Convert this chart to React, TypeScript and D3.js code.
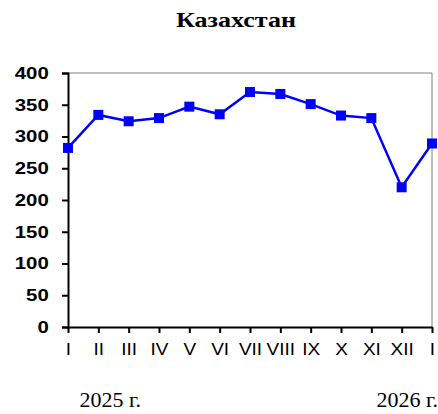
import React, { useEffect, useRef } from 'react';
import * as d3 from 'd3';

const months = ['I', 'II', 'III', 'IV', 'V', 'VI', 'VII', 'VIII', 'IX', 'X', 'XI', 'XII', 'I'];
const values = [282, 334, 324, 329, 347, 335, 370, 367, 351, 333, 329, 220, 289];
const yTicks = [0, 50, 100, 150, 200, 250, 300, 350, 400];
const years = ['2025 г.', '2026 г.'];

const width = 438;
const height = 414;
const margin = { left: 68, right: 6, top: 73, bottom: 87 };

const App = () => {
  const svgRef = useRef<SVGSVGElement>(null);

  useEffect(() => {
    const svg = d3.select(svgRef.current);
    svg.selectAll('*').remove();

    // scales
    const xScale = d3.scalePoint<number>()
      .domain(months.map((_, i) => i))
      .range([margin.left, width - margin.right]);
    const yScale = d3.scaleLinear()
      .domain([0, 400])
      .range([height - margin.bottom, margin.top]);

    // title
    svg.append('text')
      .attr('x', 176)
      .attr('y', 27)
      .attr('textLength', 120)
      .attr('lengthAdjust', 'spacingAndGlyphs')
      .attr('font-family', 'Liberation Serif')
      .attr('font-weight', 'bold')
      .attr('font-size', 22)
      .text('Казахстан');

    // frame top / right
    svg.append('path')
      .attr('d', `M${margin.left},${margin.top}H${width - margin.right}V${height - margin.bottom}`)
      .attr('fill', 'none')
      .attr('stroke', '#808080')
      .attr('stroke-width', 1);

    // Y axis
    const yAxis = d3.axisLeft(yScale)
      .tickValues(yTicks)
      .tickSize(6)
      .tickPadding(10);
    const gy = svg.append('g')
      .attr('transform', `translate(${margin.left},0)`)
      .call(yAxis);
    gy.select('.domain').attr('stroke', '#000').attr('stroke-width', 2);
    gy.selectAll('.tick line').attr('stroke-width', 2);
    gy.selectAll('.tick text')
      .attr('transform', 'scale(1.2,1)')
      .attr('font-family', 'Liberation Sans')
      .attr('font-weight', 'bold')
      .attr('font-size', 17)
      .attr('fill', '#000');

    // X axis
    const xAxis = d3.axisBottom(xScale)
      .tickFormat(i => months[i as number])
      .tickSize(6)
      .tickPadding(10)
      .tickSizeOuter(0);
    const gx = svg.append('g')
      .attr('transform', `translate(0,${height - margin.bottom})`)
      .call(xAxis);
    gx.select('.domain').attr('stroke', '#000').attr('stroke-width', 2);
    gx.selectAll('.tick line').attr('stroke-width', 2);
    gx.selectAll('.tick text')
      .attr('transform', 'scale(1.15,1)')
      .attr('font-family', 'Liberation Sans')
      .attr('font-size', 16.5)
      .attr('fill', '#000');

    // year labels
    svg.append('text')
      .attr('x', xScale(1)! + 12)
      .attr('y', 407)
      .attr('text-anchor', 'middle')
      .attr('font-family', 'Liberation Serif')
      .attr('font-size', 22)
      .text(years[0]);
    svg.append('text')
      .attr('x', width)
      .attr('y', 407)
      .attr('text-anchor', 'end')
      .attr('font-family', 'Liberation Serif')
      .attr('font-size', 22)
      .text(years[1]);

    // line
    const line = d3.line<number>()
      .x((_, i) => xScale(i)!)
      .y(d => yScale(d));
    svg.append('path')
      .datum(values)
      .attr('d', line)
      .attr('fill', 'none')
      .attr('stroke', '#0000FF')
      .attr('stroke-width', 2.5);

    // markers
    svg.selectAll('.marker')
      .data(values)
      .join('rect')
      .attr('class', 'marker')
      .attr('x', (_, i) => xScale(i)! - 5)
      .attr('y', d => yScale(d) - 5)
      .attr('width', 10)
      .attr('height', 10)
      .attr('fill', '#0000FF');
  }, []);

  return (
    <svg ref={svgRef} width={width} height={height}
      style={{ position: 'absolute', left: 0, top: 0, background: '#fff' }} />
  );
};

export default App;
